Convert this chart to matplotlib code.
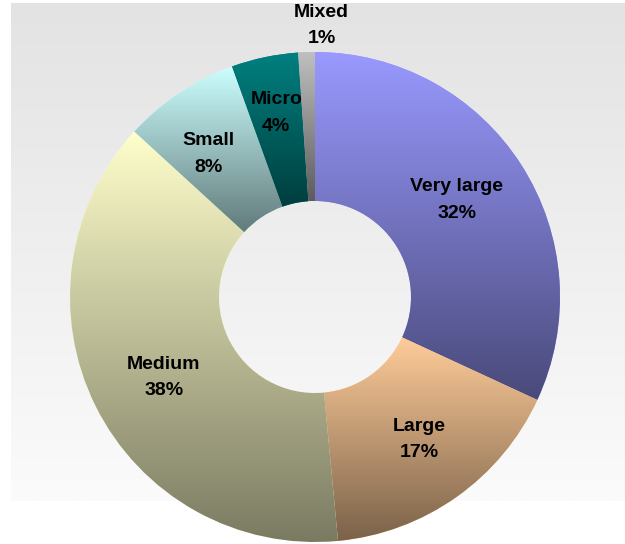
import numpy as np
import matplotlib
matplotlib.use("Agg")
import matplotlib.pyplot as plt
from matplotlib.colors import to_rgb

# ---- data ----
categories = ["Very large", "Large", "Medium", "Small", "Micro", "Mixed"]
shares = [31.9, 16.6, 38.3, 7.7, 4.4, 1.1]
top_colors = ["#9999FF", "#FFCC99", "#FFFFCC", "#CCFFFF", "#008080", "#C0C0C0"]

# ---- style ----
W, H = 625, 544
CX, CY = 315, H - 297
R_OUT, R_IN = 245, 96
label_r = [0.706, 0.714, 0.698, 0.735, 0.767, 1.11]
label_nudge = [(-4, 4), (3, 0), (2, -4), (-7, -7), (0, 0), (16, 0)]

fig = plt.figure(figsize=(W / 100, H / 100), dpi=100)
ax = fig.add_axes([0, 0, 1, 1])

# background gradient panel
bg = np.linspace(227, 251, 256)[:, None, None] / 255.0 * np.ones((1, 1, 3))
ax.imshow(bg, extent=[11, W, H - 501, H - 3], origin="upper", aspect="auto",
          interpolation="bilinear", zorder=0)

wedges, _ = ax.pie(shares, colors=top_colors, startangle=90, counterclock=False,
                   radius=R_OUT, center=(CX, CY),
                   wedgeprops=dict(width=R_OUT - R_IN, edgecolor="none", linewidth=0))

for w, c in zip(wedges, top_colors):
    w.set_zorder(1)
    ext = w.get_path().get_extents(w.get_patch_transform())
    top = np.array(to_rgb(c))
    bot = top * 0.48
    t = np.linspace(0, 1, 256)[:, None]
    grad = (top[None, :] * (1 - t) + bot[None, :] * t)[:, None, :]
    im = ax.imshow(grad, extent=[ext.x0, ext.x1, ext.y0, ext.y1], origin="upper",
                   aspect="auto", interpolation="bilinear", zorder=2)
    im.set_clip_path(w)

for w, cat, s, rf, (ndx, ndy) in zip(wedges, categories, shares, label_r, label_nudge):
    ang = np.deg2rad((w.theta1 + w.theta2) / 2)
    x = CX + R_OUT * rf * np.cos(ang) + ndx
    y = CY + R_OUT * rf * np.sin(ang) + ndy
    ax.text(x, y, f"{cat}\n{s:.0f}%", ha="center", va="center",
            fontfamily="Liberation Sans", fontweight="bold", fontsize=14,
            linespacing=1.72, color="black", zorder=5)

ax.set_xlim(0, W)
ax.set_ylim(0, H)
ax.set_aspect("equal")
ax.axis("off")
fig.savefig("out.png", dpi=100, facecolor="white")
